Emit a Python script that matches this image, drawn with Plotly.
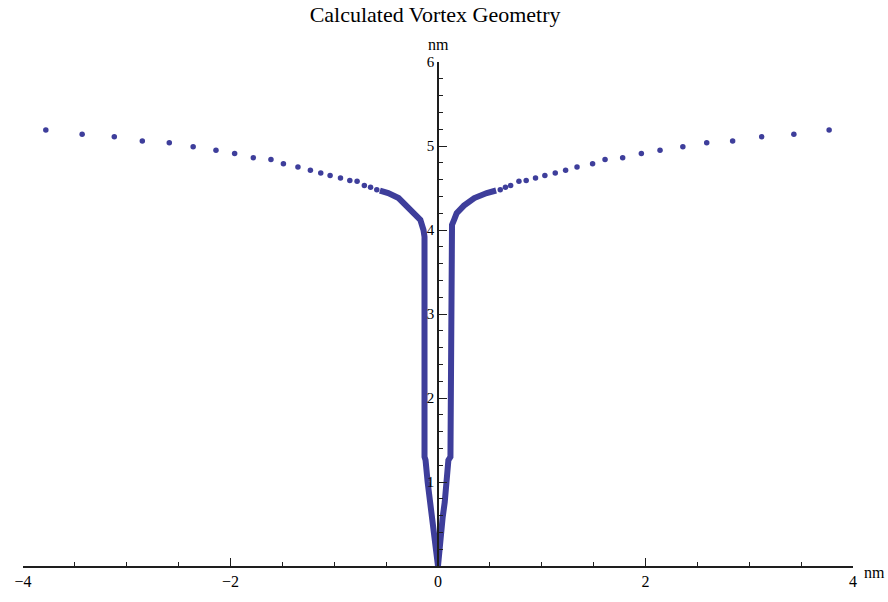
import plotly.graph_objects as go

# Outer branches: individual sampled points (nm)
left_x = [-3.78, -3.43, -3.12, -2.85, -2.59, -2.36, -2.14, -1.96, -1.78, -1.61,
          -1.49, -1.35, -1.23, -1.13, -1.04, -0.94, -0.85, -0.78, -0.71, -0.65, -0.59]
left_y = [5.19, 5.14, 5.11, 5.06, 5.04, 4.99, 4.95, 4.91, 4.86, 4.84,
          4.79, 4.75, 4.71, 4.68, 4.65, 4.62, 4.59, 4.58, 4.53, 4.51, 4.48]
right_x = [0.60, 0.65, 0.70, 0.78, 0.85, 0.94, 1.03, 1.13, 1.23, 1.34,
           1.49, 1.61, 1.78, 1.96, 2.14, 2.36, 2.59, 2.84, 3.12, 3.43, 3.77]
right_y = [4.48, 4.51, 4.53, 4.58, 4.59, 4.62, 4.65, 4.68, 4.71, 4.75,
           4.79, 4.84, 4.86, 4.91, 4.95, 4.99, 5.04, 5.06, 5.11, 5.14, 5.19]

# Densely sampled core of the vortex, drawn as a continuous band
core_x = [-0.56, -0.48, -0.38, -0.30, -0.22, -0.17, -0.14, -0.13, -0.13, -0.12,
          -0.10, -0.08, -0.058, -0.035, -0.018, 0.0, 0.012, 0.025, 0.045, 0.065,
          0.08, 0.10, 0.12, 0.125, 0.125, 0.135, 0.155, 0.18, 0.25, 0.35, 0.47, 0.56]
core_y = [4.47, 4.44, 4.38, 4.29, 4.20, 4.12, 4.00, 3.92, 1.30, 1.26,
          1.00, 0.76, 0.58, 0.38, 0.18, 0.0, 0.18, 0.38, 0.58, 0.76,
          1.00, 1.26, 1.30, 3.92, 4.00, 4.06, 4.12, 4.20, 4.29, 4.38, 4.44, 4.47]

x_ticks = [-4, -2, 0, 2, 4]
x_tick_text = ["\u22124", "\u22122", "0", "2", "4"]
y_ticks = [1, 2, 3, 4, 5, 6]
y_tick_text = ["1", "2", "3", "4", "5", "6"]

POINT_COLOR = "rgb(62,62,155)"
AXIS_COLOR = "#1e1e1e"
SERIF = "Liberation Serif"

fig = go.Figure()

fig.add_trace(go.Scatter(
    x=core_x, y=core_y, mode="lines",
    line=dict(color=POINT_COLOR, width=6),
    hoverinfo="skip", showlegend=False,
))
fig.add_trace(go.Scatter(
    x=left_x + right_x, y=left_y + right_y, mode="markers",
    marker=dict(color=POINT_COLOR, size=5.5, line=dict(width=0)),
    showlegend=False,
))

fig.update_layout(
    width=888, height=602,
    margin=dict(l=23, r=35, t=62, b=30),
    paper_bgcolor="white", plot_bgcolor="white",
    font=dict(family=SERIF, size=15, color="black"),
    title=dict(text="Calculated Vortex Geometry", x=0.49, xanchor="center",
               y=0.976, yanchor="middle",
               font=dict(family=SERIF, size=22, color="black")),
    xaxis=dict(
        range=[-4, 4], showgrid=False, zeroline=False,
        showline=True, linecolor=AXIS_COLOR, linewidth=1.5,
        ticks="inside", ticklen=8, tickwidth=1.3, tickcolor=AXIS_COLOR,
        tickvals=x_ticks, ticktext=x_tick_text,
        minor=dict(dtick=0.5, ticks="inside", ticklen=4, tickwidth=1.1,
                   tickcolor=AXIS_COLOR, showgrid=False),
        tickfont=dict(family=SERIF, size=16),
    ),
    yaxis=dict(
        range=[0, 6], showgrid=False, zeroline=False,
        anchor="free", position=0.5,
        showline=True, linecolor=AXIS_COLOR, linewidth=1.5,
        ticks="inside", ticklen=8, tickwidth=1.3, tickcolor=AXIS_COLOR,
        tickvals=y_ticks, ticktext=y_tick_text,
        minor=dict(dtick=0.2, ticks="inside", ticklen=4, tickwidth=1.1,
                   tickcolor=AXIS_COLOR, showgrid=False),
        tickfont=dict(family=SERIF, size=15),
    ),
    annotations=[
        dict(text="nm", x=0, xref="x", y=1, yref="paper", yshift=18,
             showarrow=False, font=dict(family=SERIF, size=16),
             xanchor="center", yanchor="middle"),
        dict(text="nm", x=1, xref="paper", y=0, yref="y", xshift=21, yshift=-6,
             showarrow=False, font=dict(family=SERIF, size=16),
             xanchor="center", yanchor="middle"),
    ],
)

fig.write_html("out.html")
